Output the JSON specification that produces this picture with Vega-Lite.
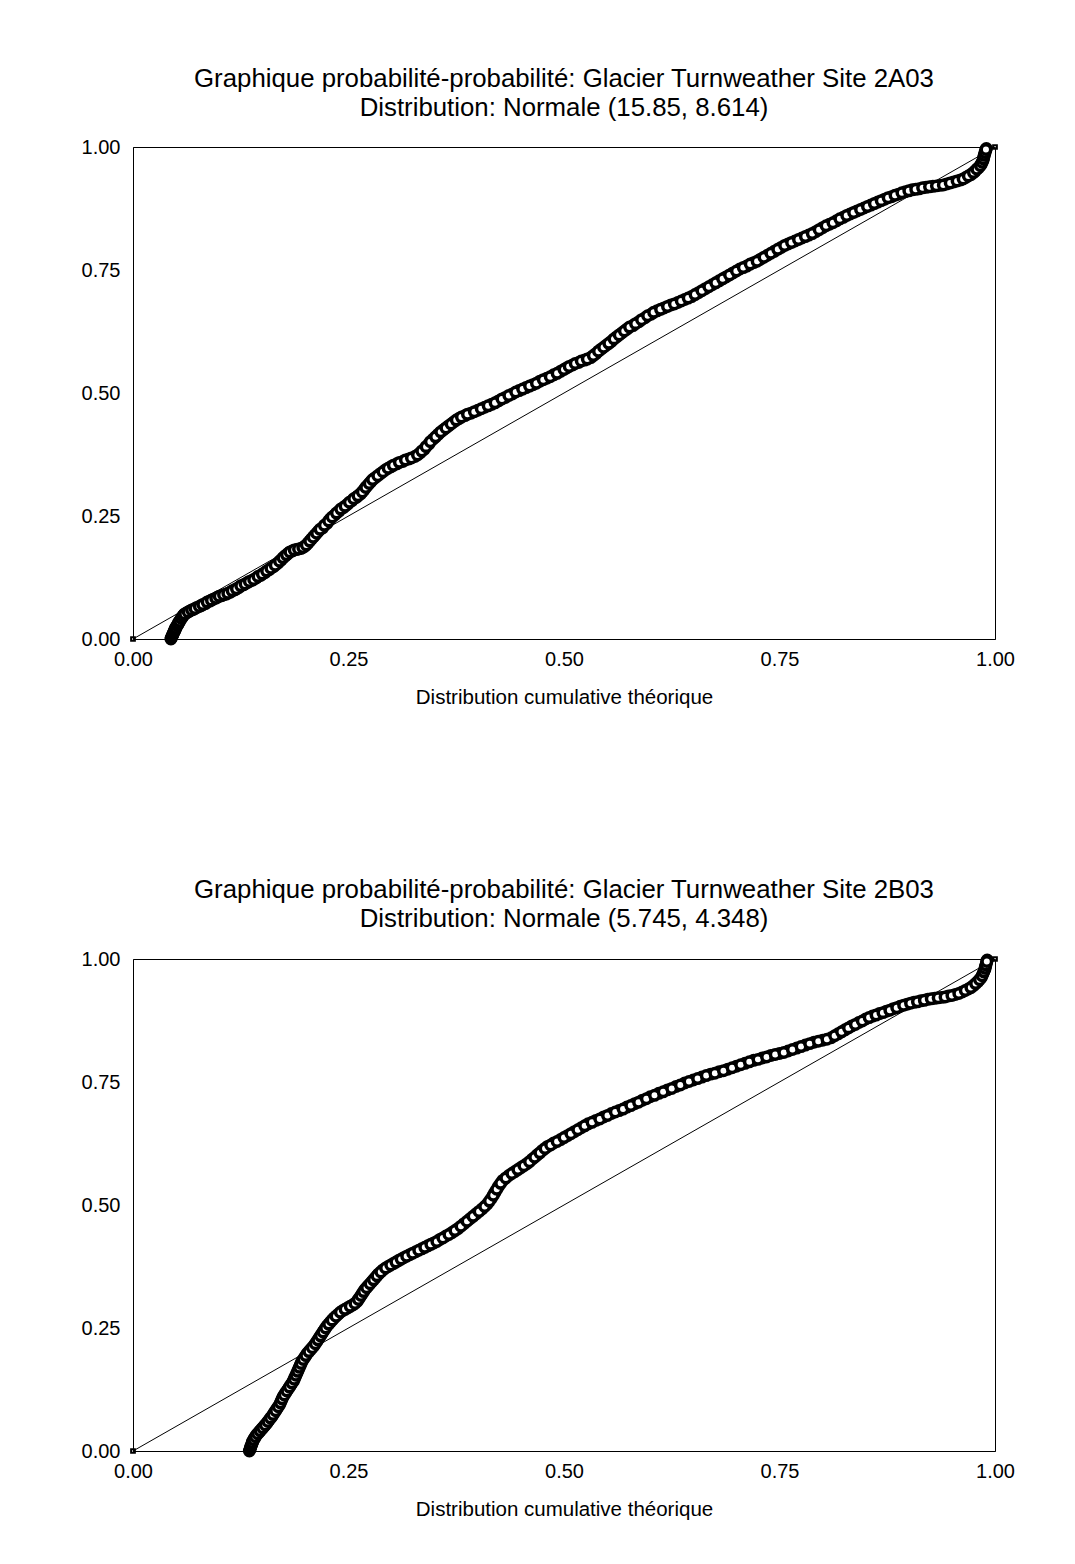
{
  "$schema": "https://vega.github.io/schema/vega-lite/v6.json",
  "background": "white",
  "padding": {"left": 80, "top": 65, "right": 40, "bottom": 20},
  "spacing": 168,
  "config": {
    "font": "Liberation Sans",
    "view": {"stroke": "black", "strokeWidth": 1},
    "axis": {"grid": false, "ticks": false, "domainColor": "black", "labelColor": "black", "labelFontSize": 20, "titleFontSize": 20.5, "titleFontWeight": "normal", "titleColor": "black", "labelFont": "Liberation Sans", "titleFont": "Liberation Sans"},
    "title": {"font": "Liberation Sans", "fontSize": 25.8, "fontWeight": "normal", "color": "black", "lineHeight": 29, "anchor": "middle", "offset": 15}
  },
  "datasets": {
    "diag": [{"x": 0, "y": 0}, {"x": 1, "y": 1}],
    "a": [
      {"x":0.044,"y":0.000},{"x":0.045,"y":0.004},{"x":0.046,"y":0.008},{"x":0.047,"y":0.012},{"x":0.048,"y":0.016},{"x":0.049,"y":0.020},{"x":0.050,"y":0.024},{"x":0.052,"y":0.029},{"x":0.053,"y":0.034},{"x":0.055,"y":0.039},{"x":0.057,"y":0.044},{"x":0.059,"y":0.049},{"x":0.062,"y":0.053},{"x":0.066,"y":0.057},{"x":0.070,"y":0.060},{"x":0.074,"y":0.064},{"x":0.079,"y":0.068},{"x":0.084,"y":0.072},{"x":0.089,"y":0.077},{"x":0.093,"y":0.081},{"x":0.098,"y":0.085},{"x":0.103,"y":0.088},{"x":0.108,"y":0.091},{"x":0.113,"y":0.095},{"x":0.118,"y":0.100},{"x":0.123,"y":0.105},{"x":0.128,"y":0.110},{"x":0.133,"y":0.115},{"x":0.138,"y":0.119},{"x":0.143,"y":0.124},{"x":0.148,"y":0.129},{"x":0.153,"y":0.135},{"x":0.158,"y":0.141},{"x":0.163,"y":0.147},{"x":0.168,"y":0.154},{"x":0.172,"y":0.161},{"x":0.176,"y":0.168},{"x":0.180,"y":0.174},{"x":0.185,"y":0.179},{"x":0.190,"y":0.182},{"x":0.195,"y":0.184},{"x":0.199,"y":0.188},{"x":0.203,"y":0.195},{"x":0.207,"y":0.203},{"x":0.211,"y":0.211},{"x":0.215,"y":0.219},{"x":0.220,"y":0.226},{"x":0.225,"y":0.235},{"x":0.229,"y":0.244},{"x":0.234,"y":0.252},{"x":0.239,"y":0.260},{"x":0.244,"y":0.267},{"x":0.249,"y":0.274},{"x":0.254,"y":0.281},{"x":0.259,"y":0.288},{"x":0.264,"y":0.295},{"x":0.268,"y":0.303},{"x":0.272,"y":0.312},{"x":0.276,"y":0.320},{"x":0.281,"y":0.328},{"x":0.287,"y":0.336},{"x":0.293,"y":0.344},{"x":0.299,"y":0.350},{"x":0.306,"y":0.356},{"x":0.313,"y":0.361},{"x":0.320,"y":0.366},{"x":0.327,"y":0.371},{"x":0.333,"y":0.378},{"x":0.338,"y":0.386},{"x":0.343,"y":0.396},{"x":0.348,"y":0.406},{"x":0.354,"y":0.416},{"x":0.360,"y":0.425},{"x":0.366,"y":0.433},{"x":0.372,"y":0.441},{"x":0.378,"y":0.448},{"x":0.385,"y":0.454},{"x":0.392,"y":0.459},{"x":0.400,"y":0.465},{"x":0.408,"y":0.471},{"x":0.416,"y":0.477},{"x":0.424,"y":0.484},{"x":0.432,"y":0.491},{"x":0.440,"y":0.498},{"x":0.448,"y":0.505},{"x":0.456,"y":0.511},{"x":0.464,"y":0.517},{"x":0.472,"y":0.524},{"x":0.480,"y":0.530},{"x":0.488,"y":0.537},{"x":0.496,"y":0.544},{"x":0.503,"y":0.551},{"x":0.510,"y":0.557},{"x":0.517,"y":0.562},{"x":0.524,"y":0.567},{"x":0.531,"y":0.572},{"x":0.537,"y":0.580},{"x":0.543,"y":0.589},{"x":0.549,"y":0.597},{"x":0.555,"y":0.605},{"x":0.561,"y":0.614},{"x":0.567,"y":0.622},{"x":0.573,"y":0.630},{"x":0.580,"y":0.637},{"x":0.587,"y":0.645},{"x":0.594,"y":0.653},{"x":0.601,"y":0.660},{"x":0.608,"y":0.667},{"x":0.616,"y":0.673},{"x":0.624,"y":0.679},{"x":0.632,"y":0.684},{"x":0.640,"y":0.690},{"x":0.648,"y":0.696},{"x":0.656,"y":0.704},{"x":0.664,"y":0.712},{"x":0.672,"y":0.720},{"x":0.680,"y":0.728},{"x":0.688,"y":0.736},{"x":0.696,"y":0.744},{"x":0.704,"y":0.752},{"x":0.712,"y":0.758},{"x":0.720,"y":0.765},{"x":0.728,"y":0.772},{"x":0.736,"y":0.780},{"x":0.744,"y":0.788},{"x":0.752,"y":0.796},{"x":0.760,"y":0.803},{"x":0.768,"y":0.809},{"x":0.776,"y":0.815},{"x":0.784,"y":0.821},{"x":0.792,"y":0.828},{"x":0.800,"y":0.836},{"x":0.808,"y":0.843},{"x":0.816,"y":0.850},{"x":0.824,"y":0.857},{"x":0.832,"y":0.864},{"x":0.840,"y":0.870},{"x":0.848,"y":0.876},{"x":0.856,"y":0.882},{"x":0.864,"y":0.888},{"x":0.872,"y":0.894},{"x":0.880,"y":0.899},{"x":0.888,"y":0.904},{"x":0.896,"y":0.909},{"x":0.904,"y":0.913},{"x":0.912,"y":0.915},{"x":0.920,"y":0.918},{"x":0.928,"y":0.920},{"x":0.936,"y":0.922},{"x":0.944,"y":0.925},{"x":0.952,"y":0.929},{"x":0.960,"y":0.933},{"x":0.966,"y":0.938},{"x":0.972,"y":0.944},{"x":0.977,"y":0.951},{"x":0.981,"y":0.958},{"x":0.984,"y":0.965},{"x":0.986,"y":0.972},{"x":0.987,"y":0.979},{"x":0.988,"y":0.986},{"x":0.989,"y":0.992},{"x":0.990,"y":0.997},
      {"x":0.0445,"y":0.002},{"x":0.0455,"y":0.006},{"x":0.0465,"y":0.010},{"x":0.0475,"y":0.014},{"x":0.0485,"y":0.018},{"x":0.0495,"y":0.022},{"x":0.051,"y":0.027},{"x":0.0525,"y":0.031},{"x":0.054,"y":0.036},{"x":0.056,"y":0.042},{"x":0.058,"y":0.047},{"x":0.060,"y":0.051},{"x":0.064,"y":0.055},{"x":0.068,"y":0.059},{"x":0.072,"y":0.062},{"x":0.077,"y":0.066},{"x":0.081,"y":0.070},{"x":0.086,"y":0.075},{"x":0.091,"y":0.079},{"x":0.096,"y":0.083},{"x":0.100,"y":0.087},{"x":0.105,"y":0.090},{"x":0.110,"y":0.093},{"x":0.115,"y":0.098},{"x":0.120,"y":0.102},{"x":0.125,"y":0.108},{"x":0.130,"y":0.112},{"x":0.135,"y":0.117},{"x":0.140,"y":0.121},{"x":0.145,"y":0.127},{"x":0.150,"y":0.132},{"x":0.155,"y":0.138},{"x":0.160,"y":0.144},{"x":0.165,"y":0.150},{"x":0.170,"y":0.158},{"x":0.174,"y":0.165},{"x":0.178,"y":0.171},{"x":0.182,"y":0.177},{"x":0.187,"y":0.181},{"x":0.192,"y":0.183},{"x":0.197,"y":0.186},{"x":0.201,"y":0.191},{"x":0.205,"y":0.199},{"x":0.209,"y":0.207},{"x":0.213,"y":0.215},{"x":0.217,"y":0.223},{"x":0.222,"y":0.231},{"x":0.227,"y":0.240},{"x":0.231,"y":0.248},{"x":0.236,"y":0.256},{"x":0.241,"y":0.264},{"x":0.246,"y":0.270},{"x":0.251,"y":0.278},{"x":0.256,"y":0.285},{"x":0.261,"y":0.291},{"x":0.266,"y":0.299},{"x":0.270,"y":0.308},{"x":0.274,"y":0.316},{"x":0.278,"y":0.324},{"x":0.284,"y":0.332},{"x":0.290,"y":0.340},{"x":0.296,"y":0.347},{"x":0.302,"y":0.353},{"x":0.309,"y":0.359},{"x":0.316,"y":0.364},{"x":0.323,"y":0.368},{"x":0.330,"y":0.374},{"x":0.335,"y":0.382},{"x":0.340,"y":0.391},{"x":0.345,"y":0.401},{"x":0.351,"y":0.411},{"x":0.357,"y":0.421},{"x":0.363,"y":0.429},{"x":0.369,"y":0.437},{"x":0.375,"y":0.445},{"x":0.381,"y":0.451},{"x":0.388,"y":0.457},{"x":0.396,"y":0.462},{"x":0.404,"y":0.468},{"x":0.412,"y":0.474},{"x":0.420,"y":0.480},{"x":0.428,"y":0.488},{"x":0.436,"y":0.495},{"x":0.444,"y":0.502},{"x":0.452,"y":0.508},{"x":0.460,"y":0.514},{"x":0.468,"y":0.520},{"x":0.476,"y":0.527},{"x":0.484,"y":0.533},{"x":0.492,"y":0.540},{"x":0.500,"y":0.548},{"x":0.506,"y":0.554},{"x":0.513,"y":0.560},{"x":0.520,"y":0.565},{"x":0.527,"y":0.569},{"x":0.534,"y":0.576},{"x":0.540,"y":0.585},{"x":0.546,"y":0.593},{"x":0.552,"y":0.601},{"x":0.558,"y":0.610},{"x":0.564,"y":0.618},{"x":0.570,"y":0.626},{"x":0.576,"y":0.634},{"x":0.583,"y":0.641},{"x":0.590,"y":0.649},{"x":0.597,"y":0.657},{"x":0.604,"y":0.664},{"x":0.612,"y":0.670},{"x":0.620,"y":0.676},{"x":0.628,"y":0.681},{"x":0.636,"y":0.687},{"x":0.644,"y":0.693},{"x":0.652,"y":0.700},{"x":0.660,"y":0.708},{"x":0.668,"y":0.716},{"x":0.676,"y":0.724},{"x":0.684,"y":0.732},{"x":0.692,"y":0.740},{"x":0.700,"y":0.748},{"x":0.708,"y":0.755},{"x":0.716,"y":0.762},{"x":0.724,"y":0.768},{"x":0.732,"y":0.776},{"x":0.740,"y":0.784},{"x":0.748,"y":0.792},{"x":0.756,"y":0.800},{"x":0.764,"y":0.806},{"x":0.772,"y":0.812},{"x":0.780,"y":0.818},{"x":0.788,"y":0.824},{"x":0.796,"y":0.832},{"x":0.804,"y":0.840},{"x":0.812,"y":0.846},{"x":0.820,"y":0.854},{"x":0.828,"y":0.861},{"x":0.836,"y":0.867},{"x":0.844,"y":0.873},{"x":0.852,"y":0.879},{"x":0.860,"y":0.885},{"x":0.868,"y":0.891},{"x":0.876,"y":0.897},{"x":0.884,"y":0.902},{"x":0.892,"y":0.907},{"x":0.900,"y":0.911},{"x":0.908,"y":0.914},{"x":0.916,"y":0.917},{"x":0.924,"y":0.919},{"x":0.932,"y":0.921},{"x":0.940,"y":0.923},{"x":0.948,"y":0.927},{"x":0.956,"y":0.931},{"x":0.963,"y":0.935},{"x":0.969,"y":0.941},{"x":0.975,"y":0.948},{"x":0.979,"y":0.955},{"x":0.983,"y":0.962},{"x":0.985,"y":0.969},{"x":0.9865,"y":0.976},{"x":0.9875,"y":0.983},{"x":0.9885,"y":0.989},{"x":0.9895,"y":0.995}
    ],
    "b": [
      {"x":0.135,"y":0.000},{"x":0.136,"y":0.005},{"x":0.137,"y":0.010},{"x":0.138,"y":0.015},{"x":0.139,"y":0.020},{"x":0.141,"y":0.026},{"x":0.143,"y":0.032},{"x":0.146,"y":0.038},{"x":0.149,"y":0.044},{"x":0.152,"y":0.050},{"x":0.155,"y":0.056},{"x":0.158,"y":0.063},{"x":0.161,"y":0.070},{"x":0.164,"y":0.078},{"x":0.167,"y":0.086},{"x":0.170,"y":0.094},{"x":0.172,"y":0.102},{"x":0.174,"y":0.110},{"x":0.177,"y":0.118},{"x":0.180,"y":0.126},{"x":0.183,"y":0.134},{"x":0.186,"y":0.142},{"x":0.188,"y":0.150},{"x":0.190,"y":0.158},{"x":0.192,"y":0.166},{"x":0.194,"y":0.174},{"x":0.196,"y":0.182},{"x":0.199,"y":0.190},{"x":0.202,"y":0.198},{"x":0.206,"y":0.206},{"x":0.210,"y":0.214},{"x":0.213,"y":0.222},{"x":0.216,"y":0.230},{"x":0.219,"y":0.238},{"x":0.222,"y":0.246},{"x":0.225,"y":0.254},{"x":0.229,"y":0.262},{"x":0.233,"y":0.270},{"x":0.238,"y":0.278},{"x":0.243,"y":0.285},{"x":0.249,"y":0.291},{"x":0.255,"y":0.297},{"x":0.260,"y":0.304},{"x":0.263,"y":0.312},{"x":0.266,"y":0.320},{"x":0.269,"y":0.328},{"x":0.273,"y":0.336},{"x":0.277,"y":0.344},{"x":0.281,"y":0.352},{"x":0.285,"y":0.360},{"x":0.290,"y":0.368},{"x":0.296,"y":0.375},{"x":0.302,"y":0.381},{"x":0.308,"y":0.387},{"x":0.314,"y":0.393},{"x":0.321,"y":0.399},{"x":0.328,"y":0.405},{"x":0.335,"y":0.411},{"x":0.342,"y":0.417},{"x":0.349,"y":0.423},{"x":0.356,"y":0.430},{"x":0.363,"y":0.437},{"x":0.370,"y":0.444},{"x":0.377,"y":0.452},{"x":0.384,"y":0.462},{"x":0.391,"y":0.472},{"x":0.398,"y":0.482},{"x":0.405,"y":0.492},{"x":0.411,"y":0.502},{"x":0.416,"y":0.514},{"x":0.420,"y":0.526},{"x":0.424,"y":0.538},{"x":0.429,"y":0.550},{"x":0.436,"y":0.560},{"x":0.443,"y":0.568},{"x":0.450,"y":0.576},{"x":0.457,"y":0.584},{"x":0.463,"y":0.593},{"x":0.469,"y":0.602},{"x":0.475,"y":0.611},{"x":0.481,"y":0.619},{"x":0.488,"y":0.626},{"x":0.496,"y":0.633},{"x":0.504,"y":0.641},{"x":0.512,"y":0.649},{"x":0.520,"y":0.657},{"x":0.528,"y":0.665},{"x":0.537,"y":0.672},{"x":0.546,"y":0.679},{"x":0.555,"y":0.686},{"x":0.564,"y":0.692},{"x":0.573,"y":0.699},{"x":0.582,"y":0.706},{"x":0.591,"y":0.713},{"x":0.600,"y":0.720},{"x":0.610,"y":0.727},{"x":0.620,"y":0.734},{"x":0.630,"y":0.741},{"x":0.640,"y":0.748},{"x":0.650,"y":0.754},{"x":0.660,"y":0.760},{"x":0.670,"y":0.766},{"x":0.680,"y":0.771},{"x":0.690,"y":0.776},{"x":0.700,"y":0.782},{"x":0.710,"y":0.788},{"x":0.720,"y":0.794},{"x":0.730,"y":0.799},{"x":0.740,"y":0.804},{"x":0.750,"y":0.808},{"x":0.760,"y":0.813},{"x":0.770,"y":0.819},{"x":0.780,"y":0.825},{"x":0.790,"y":0.831},{"x":0.800,"y":0.835},{"x":0.810,"y":0.840},{"x":0.818,"y":0.848},{"x":0.826,"y":0.856},{"x":0.834,"y":0.864},{"x":0.842,"y":0.871},{"x":0.850,"y":0.878},{"x":0.858,"y":0.884},{"x":0.866,"y":0.889},{"x":0.874,"y":0.894},{"x":0.882,"y":0.899},{"x":0.890,"y":0.904},{"x":0.898,"y":0.908},{"x":0.906,"y":0.912},{"x":0.914,"y":0.915},{"x":0.922,"y":0.918},{"x":0.930,"y":0.920},{"x":0.938,"y":0.922},{"x":0.946,"y":0.925},{"x":0.954,"y":0.928},{"x":0.962,"y":0.933},{"x":0.969,"y":0.939},{"x":0.975,"y":0.946},{"x":0.980,"y":0.954},{"x":0.984,"y":0.962},{"x":0.986,"y":0.970},{"x":0.988,"y":0.978},{"x":0.989,"y":0.985},{"x":0.990,"y":0.992},{"x":0.991,"y":0.998},
      {"x":0.1355,"y":0.0025},{"x":0.1365,"y":0.0075},{"x":0.1375,"y":0.0125},{"x":0.1385,"y":0.0175},{"x":0.140,"y":0.023},{"x":0.142,"y":0.029},{"x":0.1445,"y":0.035},{"x":0.1475,"y":0.041},{"x":0.1505,"y":0.047},{"x":0.1535,"y":0.053},{"x":0.1565,"y":0.060},{"x":0.1595,"y":0.067},{"x":0.1625,"y":0.074},{"x":0.1655,"y":0.082},{"x":0.1685,"y":0.090},{"x":0.171,"y":0.098},{"x":0.173,"y":0.106},{"x":0.1755,"y":0.114},{"x":0.1785,"y":0.122},{"x":0.1815,"y":0.130},{"x":0.1845,"y":0.138},{"x":0.187,"y":0.146},{"x":0.189,"y":0.154},{"x":0.191,"y":0.162},{"x":0.193,"y":0.170},{"x":0.195,"y":0.178},{"x":0.1975,"y":0.186},{"x":0.2005,"y":0.194},{"x":0.204,"y":0.202},{"x":0.208,"y":0.210},{"x":0.2115,"y":0.218},{"x":0.2145,"y":0.226},{"x":0.2175,"y":0.234},{"x":0.2205,"y":0.242},{"x":0.2235,"y":0.250},{"x":0.227,"y":0.258},{"x":0.231,"y":0.266},{"x":0.2355,"y":0.274},{"x":0.2405,"y":0.282},{"x":0.246,"y":0.288},{"x":0.252,"y":0.294},{"x":0.2575,"y":0.300},{"x":0.2615,"y":0.308},{"x":0.2645,"y":0.316},{"x":0.2675,"y":0.324},{"x":0.271,"y":0.332},{"x":0.275,"y":0.340},{"x":0.279,"y":0.348},{"x":0.283,"y":0.356},{"x":0.2875,"y":0.364},{"x":0.293,"y":0.372},{"x":0.299,"y":0.378},{"x":0.305,"y":0.384},{"x":0.311,"y":0.390},{"x":0.3175,"y":0.396},{"x":0.3245,"y":0.402},{"x":0.3315,"y":0.408},{"x":0.3385,"y":0.414},{"x":0.3455,"y":0.420},{"x":0.3525,"y":0.426},{"x":0.3595,"y":0.433},{"x":0.3665,"y":0.440},{"x":0.3735,"y":0.448},{"x":0.3805,"y":0.457},{"x":0.3875,"y":0.467},{"x":0.3945,"y":0.477},{"x":0.4015,"y":0.487},{"x":0.408,"y":0.497},{"x":0.4135,"y":0.508},{"x":0.418,"y":0.520},{"x":0.422,"y":0.532},{"x":0.4265,"y":0.544},{"x":0.4325,"y":0.555},{"x":0.4395,"y":0.564},{"x":0.4465,"y":0.572},{"x":0.4535,"y":0.580},{"x":0.460,"y":0.588},{"x":0.466,"y":0.597},{"x":0.472,"y":0.606},{"x":0.478,"y":0.615},{"x":0.4845,"y":0.622},{"x":0.492,"y":0.629},{"x":0.500,"y":0.637},{"x":0.508,"y":0.645},{"x":0.516,"y":0.653},{"x":0.524,"y":0.661},{"x":0.5325,"y":0.668},{"x":0.5415,"y":0.675},{"x":0.5505,"y":0.682},{"x":0.5595,"y":0.689},{"x":0.5685,"y":0.695},{"x":0.5775,"y":0.702},{"x":0.5865,"y":0.709},{"x":0.5955,"y":0.716},{"x":0.605,"y":0.723},{"x":0.615,"y":0.730},{"x":0.625,"y":0.737},{"x":0.635,"y":0.744},{"x":0.645,"y":0.751},{"x":0.655,"y":0.757},{"x":0.665,"y":0.763},{"x":0.675,"y":0.768},{"x":0.685,"y":0.773},{"x":0.695,"y":0.779},{"x":0.705,"y":0.785},{"x":0.715,"y":0.791},{"x":0.725,"y":0.796},{"x":0.735,"y":0.801},{"x":0.745,"y":0.806},{"x":0.755,"y":0.810},{"x":0.765,"y":0.816},{"x":0.775,"y":0.822},{"x":0.785,"y":0.828},{"x":0.795,"y":0.833},{"x":0.805,"y":0.837},{"x":0.814,"y":0.844},{"x":0.822,"y":0.852},{"x":0.830,"y":0.860},{"x":0.838,"y":0.867},{"x":0.846,"y":0.874},{"x":0.854,"y":0.881},{"x":0.862,"y":0.886},{"x":0.870,"y":0.891},{"x":0.878,"y":0.896},{"x":0.886,"y":0.901},{"x":0.894,"y":0.906},{"x":0.902,"y":0.910},{"x":0.910,"y":0.913},{"x":0.918,"y":0.916},{"x":0.926,"y":0.919},{"x":0.934,"y":0.921},{"x":0.942,"y":0.923},{"x":0.950,"y":0.926},{"x":0.958,"y":0.930},{"x":0.9655,"y":0.936},{"x":0.972,"y":0.942},{"x":0.9775,"y":0.950},{"x":0.982,"y":0.958},{"x":0.985,"y":0.966},{"x":0.987,"y":0.974},{"x":0.9885,"y":0.981},{"x":0.9895,"y":0.988},{"x":0.9905,"y":0.995}
    ]
  },
  "vconcat": [
    {
      "width": 862,
      "height": 492,
      "title": {"text": ["Graphique probabilité-probabilité: Glacier Turnweather Site 2A03", "Distribution: Normale (15.85, 8.614)"]},
      "layer": [
        {
          "data": {"name": "diag"},
          "mark": {"type": "line", "color": "black", "strokeWidth": 1, "point": {"shape": "square", "size": 14, "filled": false, "stroke": "black"}},
          "encoding": {
            "x": {"field": "x", "type": "quantitative", "scale": {"domain": [0, 1], "nice": false}, "axis": {"values": [0, 0.25, 0.5, 0.75, 1], "format": ".2f", "labelPadding": 10, "title": "Distribution cumulative théorique", "titlePadding": 18, "labelFlush": false}},
            "y": {"field": "y", "type": "quantitative", "scale": {"domain": [0, 1], "nice": false}, "axis": {"values": [0, 0.25, 0.5, 0.75, 1], "format": ".2f", "labelPadding": 13, "title": null, "labelFlush": false}}
          }
        },
        {
          "data": {"name": "a"},
          "mark": {"type": "point", "shape": "circle", "size": 90, "filled": true, "fill": "white", "stroke": "black", "strokeWidth": 3.5, "opacity": 1},
          "encoding": {
            "x": {"field": "x", "type": "quantitative"},
            "y": {"field": "y", "type": "quantitative"}
          }
        }
      ]
    },
    {
      "width": 862,
      "height": 492,
      "title": {"text": ["Graphique probabilité-probabilité: Glacier Turnweather Site 2B03", "Distribution: Normale (5.745, 4.348)"]},
      "layer": [
        {
          "data": {"name": "diag"},
          "mark": {"type": "line", "color": "black", "strokeWidth": 1, "point": {"shape": "square", "size": 14, "filled": false, "stroke": "black"}},
          "encoding": {
            "x": {"field": "x", "type": "quantitative", "scale": {"domain": [0, 1], "nice": false}, "axis": {"values": [0, 0.25, 0.5, 0.75, 1], "format": ".2f", "labelPadding": 10, "title": "Distribution cumulative théorique", "titlePadding": 18, "labelFlush": false}},
            "y": {"field": "y", "type": "quantitative", "scale": {"domain": [0, 1], "nice": false}, "axis": {"values": [0, 0.25, 0.5, 0.75, 1], "format": ".2f", "labelPadding": 13, "title": null, "labelFlush": false}}
          }
        },
        {
          "data": {"name": "b"},
          "mark": {"type": "point", "shape": "circle", "size": 90, "filled": true, "fill": "white", "stroke": "black", "strokeWidth": 3.5, "opacity": 1},
          "encoding": {
            "x": {"field": "x", "type": "quantitative"},
            "y": {"field": "y", "type": "quantitative"}
          }
        }
      ]
    }
  ]
}
